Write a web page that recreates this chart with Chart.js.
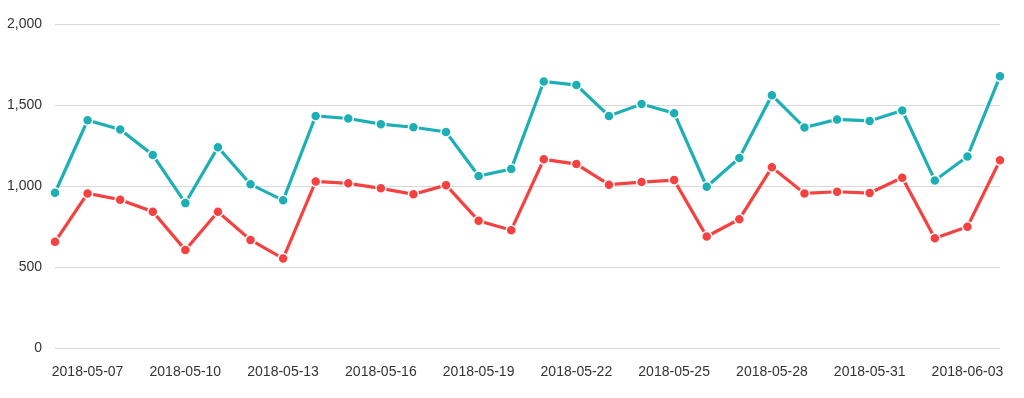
<!DOCTYPE html>
<html>
<head>
<meta charset="utf-8">
<style>
  html, body { margin: 0; padding: 0; background: #fff; }
  #wrap { width: 1024px; height: 398px; }
</style>
<script src="https://cdn.jsdelivr.net/npm/chart.js@4/dist/chart.umd.min.js"></script>
</head>
<body>
<div id="wrap"><canvas id="grafico"></canvas></div>
<script>
// datas (um ponto por dia)
const datas = [
  "2018-05-06", "2018-05-07", "2018-05-08", "2018-05-09", "2018-05-10",
  "2018-05-11", "2018-05-12", "2018-05-13", "2018-05-14", "2018-05-15",
  "2018-05-16", "2018-05-17", "2018-05-18", "2018-05-19", "2018-05-20",
  "2018-05-21", "2018-05-22", "2018-05-23", "2018-05-24", "2018-05-25",
  "2018-05-26", "2018-05-27", "2018-05-28", "2018-05-29", "2018-05-30",
  "2018-05-31", "2018-06-01", "2018-06-02", "2018-06-03", "2018-06-04"
];

// série azul (superior)
const serieAzul = [
  959, 1406, 1349, 1192, 895, 1240, 1011, 912, 1433, 1417,
  1382, 1363, 1334, 1062, 1105, 1646, 1623, 1433, 1506, 1450,
  996, 1173, 1561, 1361, 1411, 1402, 1466, 1035, 1182, 1677
];

// série vermelha (inferior)
const serieVermelha = [
  656, 955, 916, 842, 606, 842, 668, 553, 1029, 1017,
  986, 949, 1006, 786, 728, 1165, 1136, 1009, 1025, 1037,
  689, 796, 1116, 955, 965, 957, 1052, 678, 749, 1159
];

const ticksY = [0, 500, 1000, 1500, 2000];

const corAzul = "#1DAFB6";
const corVermelha = "#F5413F";

const ctx = document.getElementById("grafico").getContext("2d");
new Chart(ctx, {
  type: "line",
  data: {
    labels: datas,
    datasets: [
      {
        label: "Série A",
        data: serieAzul,
        borderColor: corAzul,
        backgroundColor: corAzul,
        borderWidth: 3.2,
        pointRadius: 5,
        pointBorderColor: "#fff",
        pointBorderWidth: 1.5,
        tension: 0
      },
      {
        label: "Série B",
        data: serieVermelha,
        borderColor: corVermelha,
        backgroundColor: corVermelha,
        borderWidth: 3.2,
        pointRadius: 5,
        pointBorderColor: "#fff",
        pointBorderWidth: 1.5,
        tension: 0
      }
    ]
  },
  options: {
    responsive: true,
    maintainAspectRatio: false,
    animation: false,
    layout: { padding: { left: 0, right: 24, top: 24, bottom: 1 } },
    plugins: {
      legend: { display: false },
      tooltip: { enabled: false }
    },
    scales: {
      x: {
        offset: false,
        grid: { display: false, drawTicks: false },
        border: { display: false },
        ticks: {
          autoSkip: false,
          maxRotation: 0,
          padding: 16,
          color: "#333",
          font: { family: "Liberation Sans", size: 14 },
          callback: function (val, i) {
            return i % 3 === 1 ? datas[i] : "";
          }
        }
      },
      y: {
        min: 0,
        max: 2000,
        afterBuildTicks: axis => { axis.ticks = ticksY.map(v => ({ value: v })); },
        afterFit: axis => { axis.width = 55; },
        grid: { color: "#d9d9d9", drawTicks: false },
        border: { display: false },
        ticks: {
          padding: 13,
          color: "#333",
          font: { family: "Liberation Sans", size: 14 },
          callback: v => v.toLocaleString("en-US")
        }
      }
    }
  }
});
</script>
</body>
</html>
